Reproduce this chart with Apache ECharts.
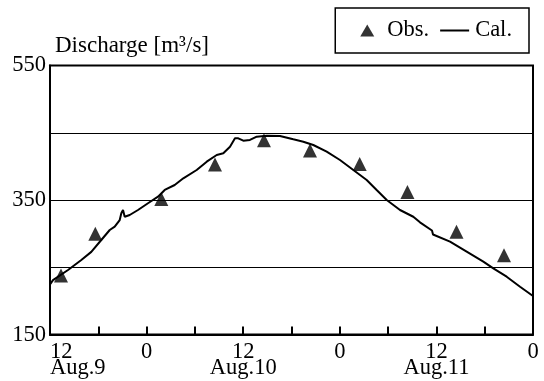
<!DOCTYPE html>
<html>
<head>
<meta charset="utf-8">
<script src="https://cdn.jsdelivr.net/npm/echarts@6/dist/echarts.min.js"></script>
<style>
  html, body { margin: 0; padding: 0; background: #fff; }
  #chart { width: 544px; height: 381px; }
</style>
</head>
<body>
<div id="chart"></div>
<script>
// Hours elapsed since Aug.9 12:00
const calHours = [0, 0.37, 2.24, 3.89, 5.13, 6.37, 7.42, 8.04, 8.66, 8.86, 9.07, 9.28, 9.9, 10.93, 12.17, 13.42, 14.25, 15.49, 16.56, 18.22, 19.47, 20.71, 21.53, 22.36, 22.98, 23.39, 24.01, 24.84, 25.68, 26.92, 28.57, 30.22, 31.47, 32.71, 34.37, 36.02, 37.68, 39.34, 40.58, 41.83, 43.48, 45.13, 45.96, 47.45, 47.58, 49.69, 51.76, 53.83, 55.07, 56.73, 58.39, 60];
const calValues = [224.5, 231, 246, 261, 273, 290.6, 305.5, 310.4, 320.3, 330.3, 335.2, 325.2, 327.8, 335.2, 345.2, 355, 365, 372.4, 382.3, 394.7, 407, 417, 419.5, 429.3, 441.8, 441.8, 438.2, 439.3, 444.2, 445.6, 445.2, 440.3, 436.7, 431.8, 421.9, 409.5, 394.7, 379.8, 364.9, 350, 335.2, 325.2, 316.9, 304.7, 298.8, 288.1, 273.2, 258.4, 248.5, 236.1, 221.2, 207.4];
const obsHours = [1.37, 5.63, 13.83, 20.5, 26.58, 32.3, 38.47, 44.4, 50.5, 56.4];
const obsValues = [237.8, 300, 351.5, 402.8, 438.8, 423.6, 403.6, 362, 303, 267.9];
const xHourLabels = ['12', '0', '12', '0', '12', '0'];
const xDayLabels = ['Aug.9', '', 'Aug.10', '', 'Aug.11', ''];
const yTickLabels = [150, 350, 550];

const FONT = 'Liberation Serif';
const FS = 22.5;
const chart = echarts.init(document.getElementById('chart'), null, { renderer: 'canvas' });
chart.setOption({
  animation: false,
  backgroundColor: '#ffffff',
  title: {
    text: 'Discharge [m³/s]',
    left: 55,
    top: 34,
    padding: 0,
    textStyle: { fontFamily: FONT, fontSize: 23, fontWeight: 'normal', color: '#000' }
  },
  legend: {
    right: 15,
    top: 8,
    padding: [11, 17, 11, 17],
    itemGap: 11,
    itemWidth: 30,
    itemHeight: 14,
    borderColor: '#000',
    borderWidth: 1.5,
    borderRadius: 0,
    textStyle: { fontFamily: FONT, fontSize: FS, color: '#000' },
    data: [
      { name: 'Obs.', icon: 'path://M0,0 M30,14 M15,1 L22,13 L8,13 Z' },
      { name: 'Cal.', icon: 'path://M0,0 M30,14 M0,6 L29,6 L29,8 L0,8 Z' }
    ]
  },
  grid: {
    left: 50, right: 11, top: 65.5, bottom: 46.4,
    containLabel: false,
    outerBoundsMode: 'none',
    show: true,
    borderColor: '#000',
    borderWidth: 2,
    backgroundColor: 'transparent'
  },
  xAxis: {
    type: 'value',
    min: 0, max: 60, interval: 6,
    axisLine: { show: true, onZero: false, lineStyle: { color: '#000', width: 2 } },
    axisTick: { show: true, inside: true, length: 8, lineStyle: { color: '#000', width: 2 } },
    splitLine: { show: false },
    axisLabel: {
      margin: 9,
      fontFamily: FONT, fontSize: FS, color: '#000',
      lineHeight: 16,
      alignMinLabel: 'left',
      formatter: function (v) {
        if (v % 12 !== 0) return '';
        const i = v / 12;
        return xDayLabels[i] ? xHourLabels[i] + '\n' + xDayLabels[i] : xHourLabels[i];
      }
    }
  },
  yAxis: {
    type: 'value',
    min: 150, max: 550, interval: 100,
    axisLine: { show: true, lineStyle: { color: '#000', width: 2 } },
    axisTick: { show: false },
    splitLine: { show: true, lineStyle: { color: '#000', width: 1 } },
    axisLabel: {
      margin: 4,
      padding: [0, 0, 6, 0],
      fontFamily: FONT, fontSize: FS, color: '#000',
      formatter: function (v) { return yTickLabels.indexOf(v) >= 0 ? String(v) : ''; }
    }
  },
  series: [
    {
      name: 'Cal.',
      type: 'line',
      data: calHours.map((h, i) => [h, calValues[i]]),
      symbol: 'none',
      lineStyle: { color: '#000', width: 2 },
      itemStyle: { color: '#000' },
      z: 3
    },
    {
      name: 'Obs.',
      type: 'scatter',
      data: obsHours.map((h, i) => [h, obsValues[i]]),
      symbol: 'triangle',
      symbolSize: 14,
      itemStyle: { color: '#000' },
      z: 4
    }
  ]
});
</script>
</body>
</html>
